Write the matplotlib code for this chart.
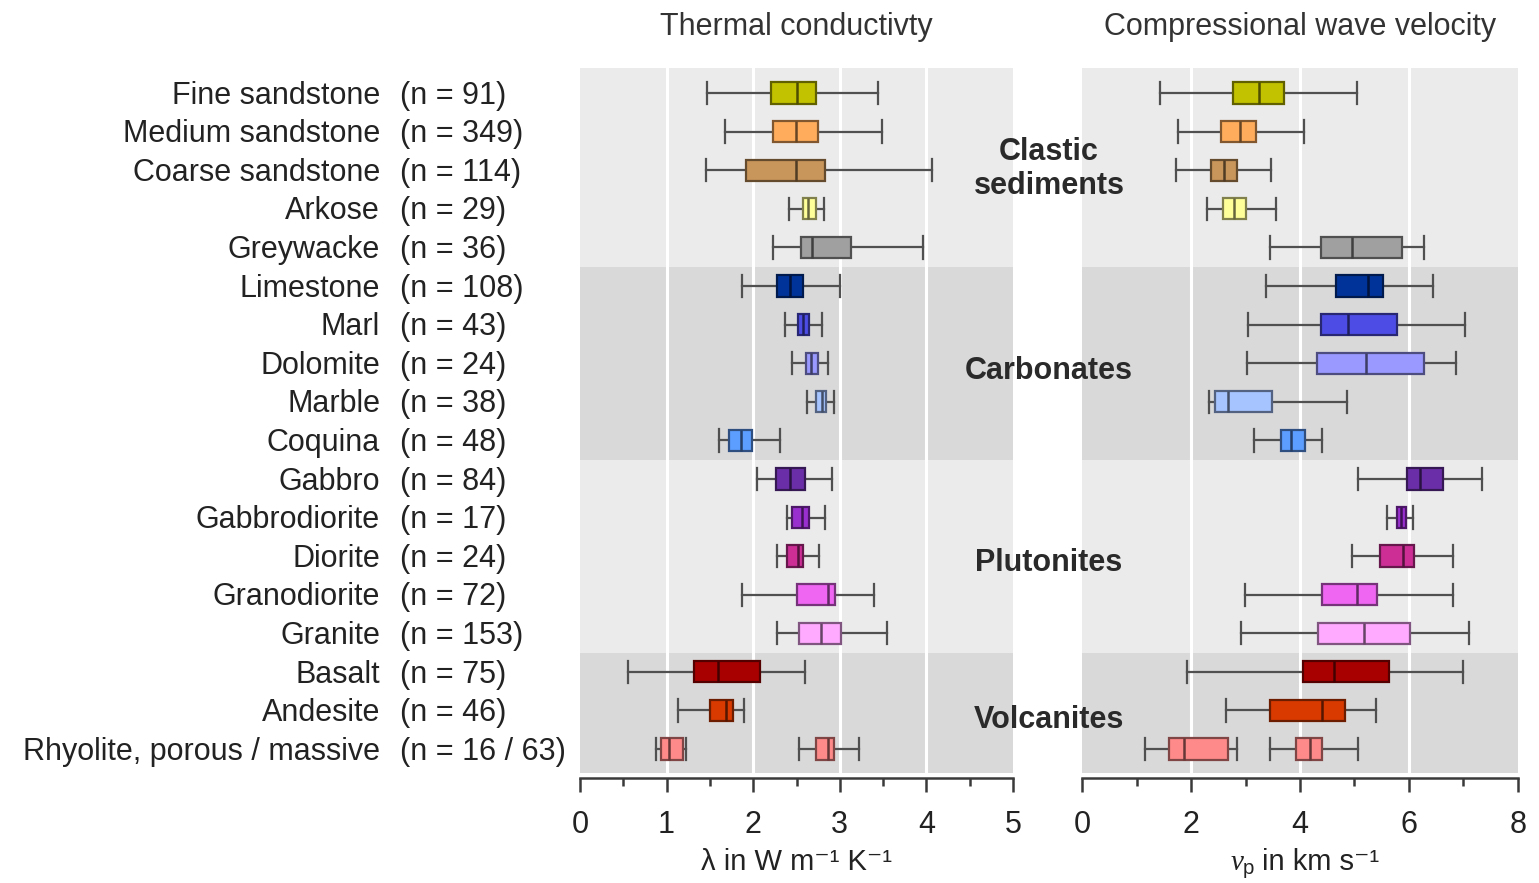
import matplotlib
matplotlib.use("Agg")
import matplotlib.pyplot as plt
import matplotlib.transforms as mtransforms
from matplotlib.ticker import MultipleLocator
import numpy as np

plt.rcParams['font.family'] = ['Liberation Sans', 'DejaVu Sans']
plt.rcParams['mathtext.fontset'] = 'custom'
plt.rcParams['mathtext.rm'] = 'Liberation Sans'
plt.rcParams['mathtext.it'] = 'Liberation Serif:italic'

# ---------------- data ----------------
rock_names = ["Fine sandstone", "Medium sandstone", "Coarse sandstone", "Arkose", "Greywacke",
              "Limestone", "Marl", "Dolomite", "Marble", "Coquina",
              "Gabbro", "Gabbrodiorite", "Diorite", "Granodiorite", "Granite",
              "Basalt", "Andesite", "Rhyolite, porous / massive"]
sample_counts = ["(n = 91)", "(n = 349)", "(n = 114)", "(n = 29)", "(n = 36)",
                 "(n = 108)", "(n = 43)", "(n = 24)", "(n = 38)", "(n = 48)",
                 "(n = 84)", "(n = 17)", "(n = 24)", "(n = 72)", "(n = 153)",
                 "(n = 75)", "(n = 46)", "(n = 16 / 63)"]
groups = ["Clastic\nsediments", "Carbonates", "Plutonites", "Volcanites"]
group_rows = [(0, 4), (5, 9), (10, 14), (15, 17)]

fill_colors = ["#C2C200", "#FFAD5C", "#C8955A", "#FFFF99", "#A0A0A0",
               "#003399", "#4D4DE6", "#9999FF", "#A6C4FF", "#5C9EFF",
               "#6A2FA8", "#9A2FD0", "#CC2E96", "#EE66F2", "#FFAAFF",
               "#A80000", "#D83A00", "#FF8A8A"]

# thermal conductivity (W m-1 K-1): whislo, q1, med, q3, whishi
tc_lo  = [1.47, 1.68, 1.45, 2.41, 2.23, 1.87, 2.37, 2.45, 2.62, 1.61, 2.04, 2.39, 2.28, 1.87, 2.27, 0.56, 1.13, 0.88]
tc_q1  = [2.20, 2.23, 1.92, 2.57, 2.55, 2.27, 2.52, 2.61, 2.73, 1.72, 2.26, 2.45, 2.39, 2.50, 2.53, 1.32, 1.50, 0.94]
tc_med = [2.51, 2.49, 2.49, 2.63, 2.68, 2.42, 2.57, 2.67, 2.79, 1.86, 2.42, 2.56, 2.52, 2.86, 2.78, 1.59, 1.69, 1.03]
tc_q3  = [2.73, 2.75, 2.83, 2.73, 3.13, 2.58, 2.64, 2.75, 2.84, 1.99, 2.60, 2.64, 2.57, 2.94, 3.01, 2.08, 1.77, 1.19]
tc_hi  = [3.44, 3.49, 4.07, 2.82, 3.96, 3.00, 2.80, 2.86, 2.93, 2.31, 2.91, 2.83, 2.76, 3.39, 3.55, 2.60, 1.89, 1.22]
# massive rhyolite (second box in last row)
tc_massive = [2.53, 2.73, 2.86, 2.93, 3.22]

# compressional wave velocity (km s-1)
vp_lo  = [1.42, 1.75, 1.72, 2.30, 3.44, 3.38, 3.05, 3.02, 2.32, 3.16, 5.06, 5.60, 4.95, 2.99, 2.92, 1.93, 2.64, 1.15]
vp_q1  = [2.76, 2.55, 2.36, 2.58, 4.38, 4.66, 4.39, 4.32, 2.44, 3.65, 5.96, 5.78, 5.47, 4.41, 4.33, 4.06, 3.44, 1.60]
vp_med = [3.25, 2.89, 2.60, 2.79, 4.96, 5.25, 4.88, 5.22, 2.67, 3.84, 6.20, 5.86, 5.89, 5.04, 5.18, 4.63, 4.40, 1.86]
vp_q3  = [3.70, 3.19, 2.85, 3.01, 5.88, 5.53, 5.79, 6.28, 3.48, 4.09, 6.62, 5.95, 6.10, 5.41, 6.02, 5.63, 4.83, 2.68]
vp_hi  = [5.04, 4.07, 3.47, 3.56, 6.28, 6.45, 7.04, 6.86, 4.86, 4.40, 7.35, 6.07, 6.81, 6.81, 7.10, 6.99, 5.40, 2.85]
vp_massive = [3.44, 3.92, 4.19, 4.41, 5.07]

# ---------------- figure ----------------
W, H = 1539, 883
fig = plt.figure(figsize=(W / 100, H / 100), dpi=100)

def fx(px):
    return px / W

def fy(py):
    return 1 - py / H

ax_bottom, ax_top = fy(778), fy(68)
ax1 = fig.add_axes([fx(580), ax_bottom, fx(1013) - fx(580), ax_top - ax_bottom])
ax2 = fig.add_axes([fx(1082.3), ax_bottom, fx(1517.7) - fx(1082.3), ax_top - ax_bottom])

YTOP, YBOT = -0.648, 17.75
bg_colors = ["#EBEBEB", "#D9D9D9", "#EBEBEB", "#D9D9D9"]


def darken(c, f=0.55):
    r, g, b = matplotlib.colors.to_rgb(c)
    return (r * f, g * f, b * f)


def draw_panel(ax, lo, q1, med, q3, hi, extra, xmax, major, minor, grid_vals):
    # group backgrounds
    for gi, (r0, r1) in enumerate(group_rows):
        top = YTOP if gi == 0 else r0 - 0.5
        bot = 17.62 if gi == len(group_rows) - 1 else r1 + 0.5
        ax.axhspan(top, bot, color=bg_colors[gi], lw=0, zorder=0)
    for gv in grid_vals:
        ax.axvline(gv, ymin=(YBOT - 17.62) / (YBOT - YTOP), ymax=1, color="white", lw=2.2, zorder=1)

    stats = []
    colors = []
    positions = []
    for i in range(len(rock_names)):
        stats.append(dict(whislo=lo[i], q1=q1[i], med=med[i], q3=q3[i], whishi=hi[i], fliers=[]))
        colors.append(fill_colors[i])
        positions.append(i)
    stats.append(dict(whislo=extra[0], q1=extra[1], med=extra[2], q3=extra[3], whishi=extra[4], fliers=[]))
    colors.append(fill_colors[-1])
    positions.append(len(rock_names) - 1)

    kw = dict(positions=positions, widths=0.55, patch_artist=True, showfliers=False,
              capwidths=0.58, manage_ticks=False,
              whiskerprops=dict(color="#505050", lw=1.6),
              capprops=dict(color="#505050", lw=1.6),
              medianprops=dict(lw=1.8),
              boxprops=dict(lw=1.6))
    try:
        bp = ax.bxp(stats, orientation="horizontal", **kw)
    except TypeError:
        bp = ax.bxp(stats, vert=False, **kw)
    for b, m, c in zip(bp["boxes"], bp["medians"], colors):
        b.set_facecolor(c)
        b.set_edgecolor(darken(c, 0.5))
        b.set_zorder(3)
        m.set_color(darken(c, 0.4))
        m.set_zorder(4)

    ax.set_xlim(0, xmax)
    ax.set_ylim(YBOT, YTOP)
    for s in ["top", "left", "right"]:
        ax.spines[s].set_visible(False)
    ax.spines["bottom"].set_color("#3A3A3A")
    ax.spines["bottom"].set_linewidth(1.8)
    ax.set_yticks([])
    ax.xaxis.set_major_locator(MultipleLocator(major))
    ax.xaxis.set_minor_locator(MultipleLocator(minor))
    ax.tick_params(axis="x", which="major", length=10, width=1.8, color="#3A3A3A",
                   labelsize=22, pad=13, labelcolor="#222222")
    ax.tick_params(axis="x", which="minor", length=5.5, width=1.8, color="#3A3A3A")
    ax.set_facecolor("white")


draw_panel(ax1, tc_lo, tc_q1, tc_med, tc_q3, tc_hi, tc_massive, 5, 1, 0.5, [1, 2, 3, 4])
draw_panel(ax2, vp_lo, vp_q1, vp_med, vp_q3, vp_hi, vp_massive, 8, 2, 1, [2, 4, 6])

# row labels
trans = mtransforms.blended_transform_factory(fig.transFigure, ax1.transData)
for i, (name, n) in enumerate(zip(rock_names, sample_counts)):
    fig.text(fx(380), i + 0.07, name, transform=trans, ha="right", va="center",
             fontsize=22, color="#222222")
    fig.text(fx(400), i + 0.07, n, transform=trans, ha="left", va="center",
             fontsize=22, color="#222222")

# group labels
group_y = [1.97, 7.2, 12.17, 16.25]
for g, gy in zip(groups, group_y):
    fig.text(fx(1049), gy, g, transform=trans, ha="center", va="center",
             fontsize=22, fontweight="bold", color="#2A2A2A", linespacing=1.17,
             zorder=10)

# titles
fig.text(fx(796.5), fy(27), "Thermal conductivty", ha="center", va="center", fontsize=22, color="#333333")
fig.text(fx(1300), fy(27), "Compressional wave velocity", ha="center", va="center", fontsize=22, color="#333333")

# axis labels
fig.text(fx(796.5), fy(870), "λ in W m⁻¹ K⁻¹", ha="center", va="baseline", fontsize=21, color="#222222")
fig.text(fx(1255), fy(870), "$\\mathit{v}_\\mathrm{p}$", ha="right", va="baseline", fontsize=21, color="#222222")
fig.text(fx(1262), fy(870), "in km s⁻¹", ha="left", va="baseline", fontsize=21, color="#222222")

fig.savefig("out.png", dpi=100, facecolor="white")
